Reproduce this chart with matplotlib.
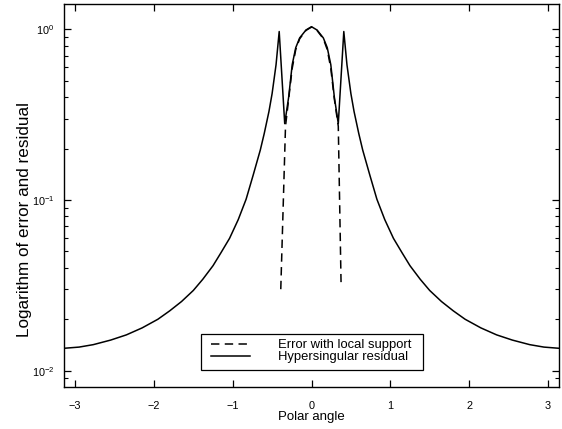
import numpy as np
import matplotlib
matplotlib.use("Agg")
import matplotlib.pyplot as plt
from matplotlib.ticker import LogLocator, FixedLocator
from matplotlib.patches import Rectangle

plt.rcParams['font.family'] = ['Liberation Sans', 'DejaVu Sans']
plt.rcParams['mathtext.fontset'] = 'custom'
plt.rcParams['mathtext.rm'] = 'Liberation Sans'
plt.rcParams['mathtext.it'] = 'Liberation Sans'
plt.rcParams['mathtext.default'] = 'regular'

# Hypersingular residual (solid)
residual_angle = [-3.1416, -2.95, -2.77, -2.55, -2.35, -2.15, -1.95, -1.80, -1.65, -1.50,
                  -1.38, -1.25, -1.15, -1.04, -0.93, -0.83, -0.74, -0.65, -0.60, -0.54,
                  -0.50, -0.45, -0.41, -0.34, -0.29, -0.245, -0.20, -0.15, -0.07, 0.0,
                  0.07, 0.15, 0.20, 0.245, 0.29, 0.34, 0.41, 0.45, 0.50, 0.54,
                  0.60, 0.65, 0.74, 0.83, 0.93, 1.04, 1.15, 1.25, 1.38, 1.50,
                  1.65, 1.80, 1.95, 2.15, 2.35, 2.55, 2.77, 2.95, 3.1416]
residual_value = [0.01352, 0.01374, 0.0142, 0.0151, 0.0162, 0.0178, 0.0200, 0.0224, 0.0254, 0.0295,
                  0.0343, 0.0412, 0.049, 0.0596, 0.0767, 0.101, 0.140, 0.196, 0.245, 0.33,
                  0.42, 0.62, 0.97, 0.28, 0.40, 0.62, 0.78, 0.89, 0.99, 1.035,
                  0.99, 0.89, 0.78, 0.62, 0.40, 0.28, 0.97, 0.62, 0.42, 0.33,
                  0.245, 0.196, 0.140, 0.101, 0.0767, 0.0596, 0.049, 0.0412, 0.0343, 0.0295,
                  0.0254, 0.0224, 0.0200, 0.0178, 0.0162, 0.0151, 0.0142, 0.01374, 0.01352]

# Error with local support (dashed)
error_angle = [-0.39, -0.33, -0.29, -0.245, -0.20, -0.15, -0.07, 0.0,
               0.07, 0.15, 0.20, 0.245, 0.29, 0.34, 0.375]
error_value = [0.030, 0.27, 0.39, 0.59, 0.76, 0.88, 0.985, 1.03,
               0.985, 0.88, 0.76, 0.59, 0.39, 0.27, 0.033]

x_ticks = [-3, -2, -1, 0, 1, 2, 3]
x_ticklabels = ['\u22123', '\u22122', '\u22121', '0', '1', '2', '3']

W, H = 562, 429
fig = plt.figure(figsize=(W/100, H/100), dpi=100)
ax = fig.add_axes([64/W, 1-387/H, (559-64)/W, (387-4)/H])

ax.plot(error_angle, error_value, color='black', lw=1.1, dashes=(5.5, 3.5),
        label='Error with local support')
ax.plot(residual_angle, residual_value, color='black', lw=1.1,
        label='Hypersingular residual')

ax.set_yscale('log')
ax.set_xlim(-3.1416, 3.1416)
ax.set_ylim(0.00802, 1.406)

ax.xaxis.set_major_locator(FixedLocator(x_ticks))
ax.set_xticklabels(x_ticklabels)
ax.yaxis.set_major_locator(LogLocator(base=10, numticks=10))
ax.yaxis.set_minor_locator(LogLocator(base=10, subs=np.arange(2, 10), numticks=20))

ax.tick_params(which='both', direction='in', top=True, right=True, labelsize=7.8)
ax.tick_params(which='major', length=5, width=0.9)
ax.tick_params(which='minor', length=3, width=0.8)
ax.tick_params(axis='x', pad=10)
ax.tick_params(axis='y', pad=7)
for s in ax.spines.values():
    s.set_linewidth(1.0)

ax.set_xlabel('Polar angle', fontsize=9.5, labelpad=0)
ax.set_ylabel('Logarithm of error and residual', fontsize=12.3)
ax.yaxis.set_label_coords((32-64)/495, (387-219.5)/383)

leg = ax.legend(loc='upper left', bbox_to_anchor=(211/W, 1-339/H),
                bbox_transform=fig.transFigure, frameon=False,
                fontsize=9.4, handlelength=3.0, handletextpad=2.1,
                labelspacing=0.0, borderpad=0.0, borderaxespad=0)
fig.patches.append(Rectangle((201/W, 1-370/H), (423-201)/W, (370-334)/H,
                             transform=fig.transFigure, fill=True,
                             facecolor='none', edgecolor='black', lw=0.9, zorder=5))

fig.savefig('out.png', dpi=100)
